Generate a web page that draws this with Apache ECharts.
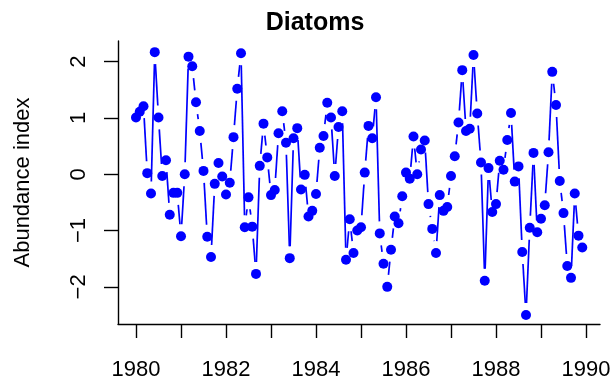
<!DOCTYPE html>
<html><head><meta charset="utf-8">
<script src="https://cdn.jsdelivr.net/npm/echarts@6/dist/echarts.min.js"></script>
<style>html,body{margin:0;padding:0;background:#fff}#c{width:615px;height:384px}</style>
</head><body><div id="c"></div>
<script>
// Monthly abundance index, Jan 1980 .. Dec 1989
const startYear = 1980;
const monthsPerYear = 12;
const abundance = [
  1.01, 1.11, 1.21, 0.02, -0.34, 2.17, 1.01, -0.03, 0.25, -0.72, -0.33, -0.33,
  -1.10, 0.00, 2.09, 1.92, 1.28, 0.77, 0.06, -1.11, -1.47, -0.17, 0.20, -0.04,
  -0.36, -0.15, 0.66, 1.52, 2.15, -0.94, -0.41, -0.93, -1.77, 0.15, 0.90, 0.30,
  -0.37, -0.28, 0.73, 1.12, 0.56, -1.49, 0.64, 0.82, -0.27, -0.01, -0.75, -0.65,
  -0.35, 0.47, 0.68, 1.27, 1.01, -0.03, 0.84, 1.12, -1.52, -0.80, -1.40, -1.00,
  -0.94, 0.03, 0.86, 0.64, 1.37, -1.05, -1.59, -2.00, -1.34, -0.75, -0.87, -0.39,
  0.03, -0.08, 0.67, 0.00, 0.44, 0.60, -0.53, -0.97, -1.40, -0.37, -0.65, -0.58,
  -0.03, 0.32, 0.92, 1.85, 0.77, 0.81, 2.12, 1.08, 0.21, -1.89, 0.11, -0.67,
  -0.53, 0.24, 0.08, 0.61, 1.09, -0.13, 0.14, -1.38, -2.50, -0.95, 0.38, -1.03,
  -0.79, -0.55, 0.39, 1.82, 1.23, -0.12, -0.69, -1.63, -1.84, -0.34, -1.09, -1.30
];
const xTicks = [1980, 1981, 1982, 1983, 1984, 1985, 1986, 1987, 1988, 1989, 1990];
const xTickLabels = [1980, 1982, 1984, 1986, 1988, 1990];
const yTicks = [-2, -1, 0, 1, 2];
const titleText = 'Diatoms';
const yAxisTitle = 'Abundance index';

const points = abundance.map((v, i) => [startYear + i / monthsPerYear, v]);
const segments = [];
for (let i = 0; i < points.length - 1; i++) {
  segments.push([points[i][0], points[i][1], points[i + 1][0], points[i + 1][1]]);
}

const FONT = '"Liberation Sans", Arial, Helvetica, sans-serif';
const BLUE = '#0000ff';
const GAP = 12;

const chart = echarts.init(document.getElementById('c'), null, {renderer: 'canvas'});
chart.setOption({
  animation: false,
  backgroundColor: '#fff',
  title: {
    text: titleText, left: 310, top: 6, textAlign: 'center',
    textStyle: {fontFamily: FONT, fontWeight: 'bold', fontSize: 25, color: '#000'}
  },
  grid: {left: 118, right: 15, top: 41, bottom: 60},
  xAxis: {
    type: 'value', min: 1979.6, max: 1990.311,
    axisLine: {show: true, onZero: false, lineStyle: {color: '#000', width: 1.4}},
    axisTick: {show: true, length: 14, customValues: xTicks, lineStyle: {color: '#000', width: 1.4}},
    axisLabel: {customValues: xTickLabels, margin: 35, fontFamily: FONT, fontSize: 22, color: '#000',
      formatter: v => String(Math.round(v))},
    splitLine: {show: false}
  },
  yAxis: {
    type: 'value', min: -2.66, max: 2.368,
    name: yAxisTitle, nameLocation: 'middle', nameGap: 84,
    nameTextStyle: {fontFamily: FONT, fontSize: 22, color: '#000'},
    axisLine: {show: true, onZero: false, lineStyle: {color: '#000', width: 1.4}},
    axisTick: {show: true, length: 14, customValues: yTicks, lineStyle: {color: '#000', width: 1.4}},
    axisLabel: {customValues: yTicks, rotate: 90, margin: 28, fontFamily: FONT, fontSize: 22, color: '#000',
      formatter: v => (v < 0 ? '\u2212' + Math.abs(v) : String(v))},
    splitLine: {show: false}
  },
  series: [
    {
      type: 'custom',
      data: segments,
      encode: {x: [0, 2], y: [1, 3]},
      renderItem: function (params, api) {
        const p0 = api.coord([api.value(0), api.value(1)]);
        const p1 = api.coord([api.value(2), api.value(3)]);
        const dx = p1[0] - p0[0], dy = p1[1] - p0[1];
        const d = Math.hypot(dx, dy);
        if (d <= 2 * GAP) return {type: 'group', children: []};
        const ux = dx / d, uy = dy / d;
        return {
          type: 'line',
          shape: {x1: p0[0] + ux * GAP, y1: p0[1] + uy * GAP, x2: p1[0] - ux * GAP, y2: p1[1] - uy * GAP},
          style: {stroke: BLUE, lineWidth: 1.7}
        };
      },
      z: 2
    },
    {
      type: 'scatter', data: points, symbol: 'circle', symbolSize: 10,
      itemStyle: {color: BLUE, opacity: 1}, z: 3
    }
  ]
});
</script></body></html>
